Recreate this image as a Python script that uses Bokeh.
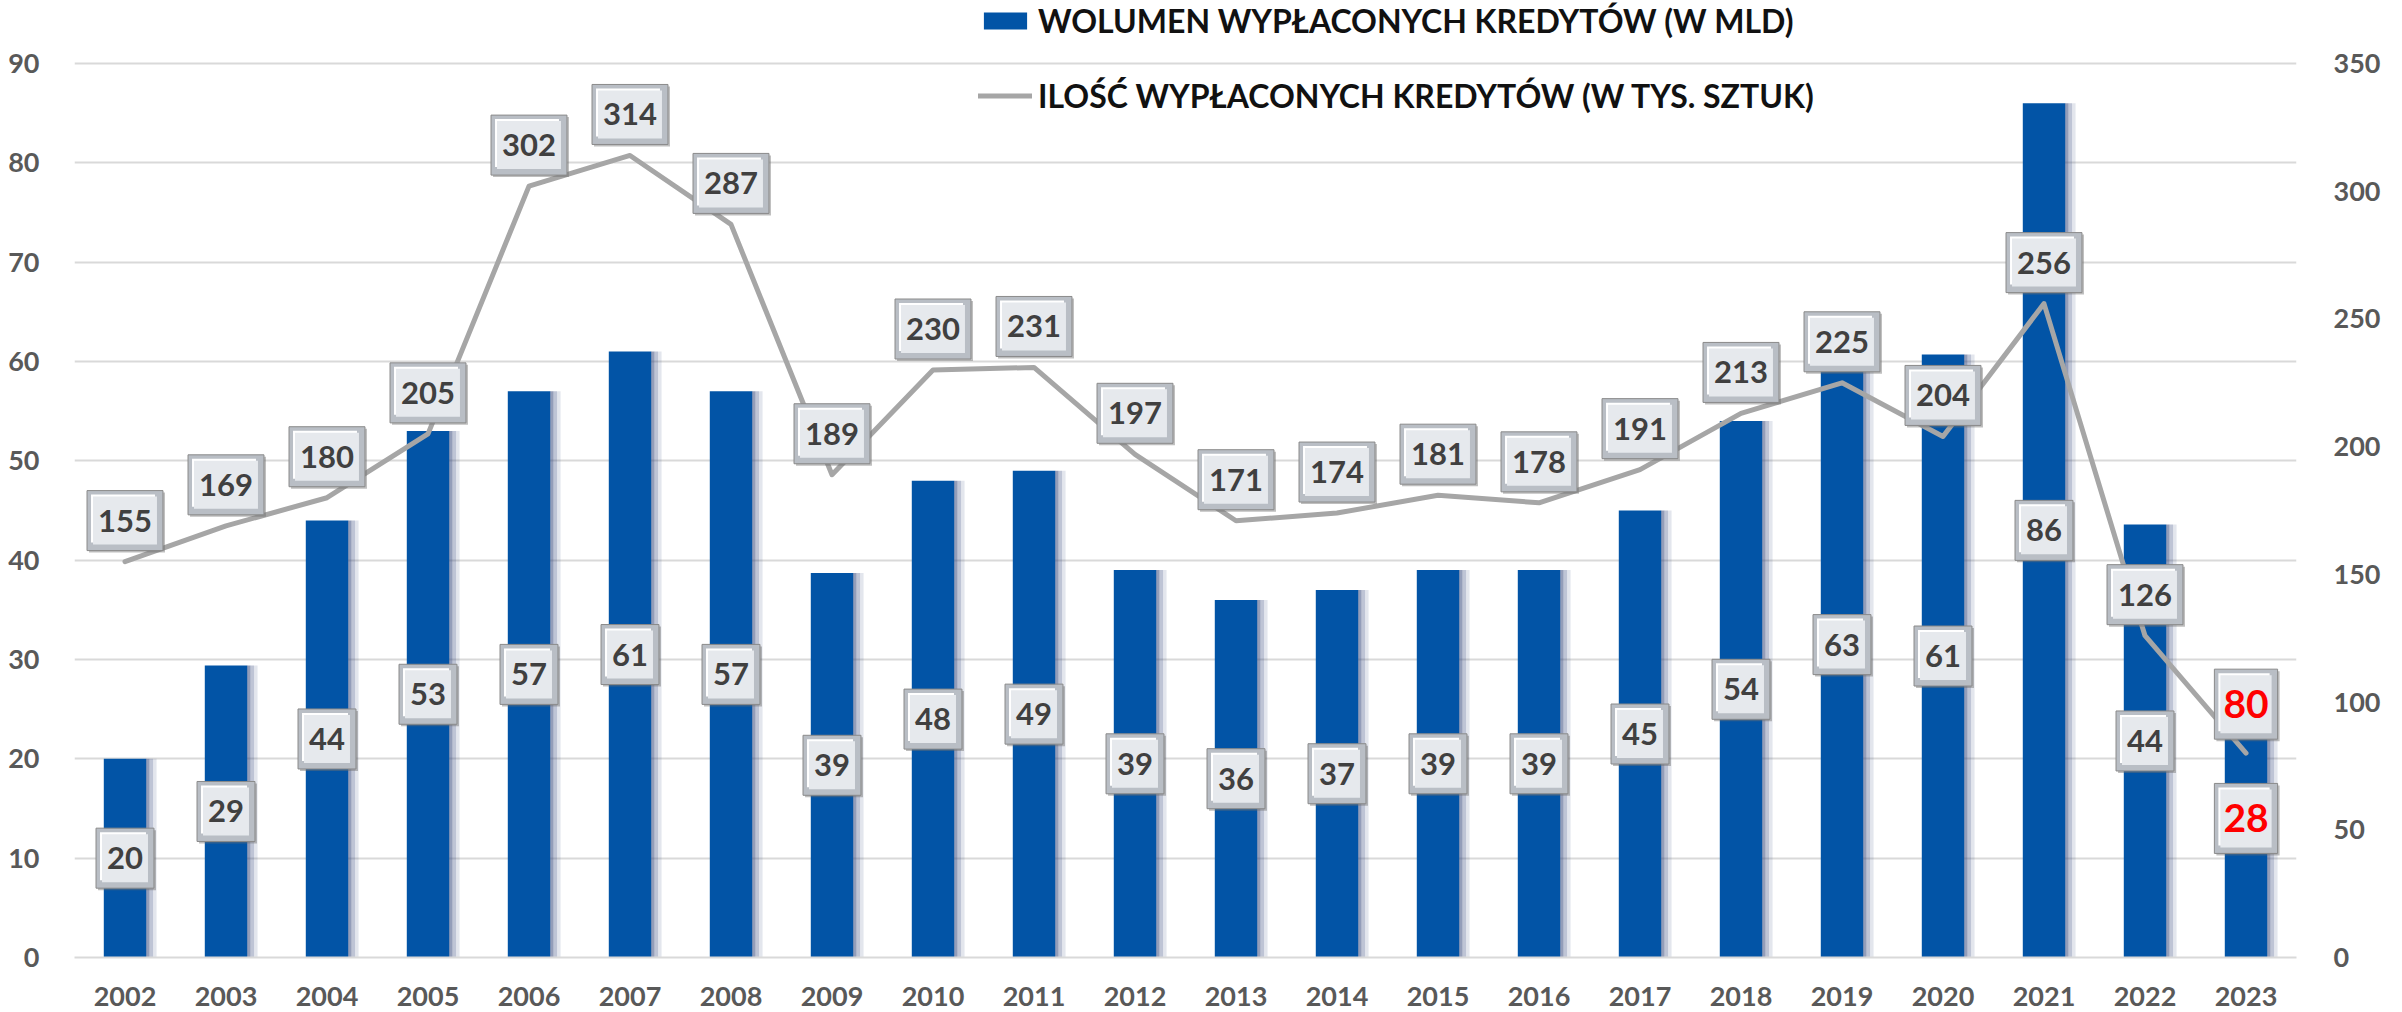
from bokeh.plotting import figure
from bokeh.models import (Range1d, LinearAxis, FactorRange, FixedTicker,
                          ColumnDataSource, Legend, LegendItem)
from bokeh.transform import dodge
from bokeh.core.properties import value
from bokeh.embed import file_html
from bokeh.resources import INLINE

# ---------------- data ----------------
years = ["2002", "2003", "2004", "2005", "2006", "2007", "2008", "2009", "2010",
         "2011", "2012", "2013", "2014", "2015", "2016", "2017", "2018", "2019",
         "2020", "2021", "2022", "2023"]
volume_bn = [20, 29.4, 44, 53, 57, 61, 57, 38.7, 48, 49, 39, 36, 37, 39, 39,
             45, 54, 63, 60.7, 86, 43.6, 28]
count_thousand = [155, 169, 180, 205, 302, 314, 287, 189, 230, 231, 197, 171,
                  174, 181, 178, 191, 213, 225, 204, 256, 126, 80]
left_ticks = [0, 10, 20, 30, 40, 50, 60, 70, 80, 90]
right_ticks = [0, 50, 100, 150, 200, 250, 300, 350]
series_names = ["WOLUMEN WYPŁACONYCH KREDYTÓW (W MLD)",
                "ILOŚĆ WYPŁACONYCH KREDYTÓW (W TYS. SZTUK)"]

# ---------------- sources ----------------
def make_src(idx):
    return ColumnDataSource(dict(
        year=[years[i] for i in idx],
        vol=[volume_bn[i] for i in idx],
        half=[volume_bn[i] / 2 for i in idx],
        vlab=[str(round(volume_bn[i])) for i in idx],
        cnt=[count_thousand[i] for i in idx],
        clab=[str(count_thousand[i]) for i in idx],
    ))

all_idx = list(range(len(years)))
src = make_src(all_idx)
src_main = make_src(all_idx[:-1])
src_last = make_src(all_idx[-1:])

BLUE = "#0254A6"
GRID = "#D9D9D9"
TICK = "#595959"

W, H = 2402, 1012
FRAME_H = 957          # frame spans from the canvas top to the zero line
TOP_GAP = 63           # empty band above the top gridline (legend lives here)
scale = FRAME_H / (FRAME_H - TOP_GAP)

p = figure(x_range=FactorRange(*years, range_padding=0),
           y_range=Range1d(left_ticks[0], left_ticks[-1] * scale),
           width=W, height=H, output_backend="svg", toolbar_location=None,
           title=None,
           min_border_left=74, min_border_right=106, min_border_top=0,
           min_border_bottom=H - FRAME_H)
p.extra_y_ranges = {"right": Range1d(right_ticks[0], right_ticks[-1] * scale)}
p.outline_line_color = None
p.background_fill_color = "white"
p.border_fill_color = "white"

# axes
p.yaxis.ticker = FixedTicker(ticks=left_ticks)
p.yaxis.major_label_standoff = 29
p.xaxis.major_label_standoff = 23
for ax in p.xaxis + p.yaxis:
    ax.major_tick_line_color = None
    ax.minor_tick_line_color = None
    ax.major_label_text_font = "Lato"
    ax.major_label_text_font_style = "bold"
    ax.major_label_text_font_size = "27px"
    ax.major_label_text_color = TICK
p.yaxis.axis_line_color = None
p.xaxis.axis_line_color = GRID
p.xaxis.axis_line_width = 2

raxis = LinearAxis(y_range_name="right", ticker=FixedTicker(ticks=right_ticks),
                   axis_line_color=None, major_tick_line_color=None,
                   minor_tick_line_color=None, major_label_standoff=31,
                   major_label_text_font="Lato", major_label_text_font_style="bold",
                   major_label_text_font_size="27px", major_label_text_color=TICK)
p.add_layout(raxis, "right")

p.xgrid.grid_line_color = None
p.ygrid.ticker = FixedTicker(ticks=left_ticks)
p.ygrid.grid_line_color = GRID
p.ygrid.grid_line_width = 2

# bar soft shadows
for off, a in [(0.225, 0.55), (0.26, 0.33), (0.295, 0.14)]:
    p.vbar(x=dodge("year", off, range=p.x_range), top="vol", width=0.035,
           source=src, fill_color="#3A4C80", fill_alpha=a, line_color=None)

bars = p.vbar(x="year", top="vol", width=0.42, source=src,
              fill_color=BLUE, line_color=None)

line = p.line(x="year", y="cnt", source=src, y_range_name="right",
              line_color="#A6A6A6", line_width=5, line_join="round", line_cap="round")


def pad(px, py):
    return dict(left=px, right=px, top=py, bottom=py)


def boxed(source, ycol, tcol, yname, fs, color, yoff, px, py):
    base = dict(x="year", y=ycol, text=tcol, source=source,
                text_font=value("Lato"), text_font_style="bold",
                text_font_size=fs, text_align="center", text_baseline="middle")
    if yname:
        base["y_range_name"] = yname
    # drop shadow
    p.text(**base, x_offset=2, y_offset=yoff + 2, text_alpha=0, padding=pad(px, py),
           background_fill_color="#6E6E6E", background_fill_alpha=0.45)
    # bevel frame
    p.text(**base, y_offset=yoff, text_alpha=0, padding=pad(px, py),
           background_fill_color="#B9BEC5", border_line_color="#8A8A8A",
           border_line_width=1)
    # highlight
    p.text(**base, x_offset=-2, y_offset=yoff - 2, text_alpha=0,
           padding=pad(px - 6, py - 6), background_fill_color="#FFFFFF")
    # face
    p.text(**base, y_offset=yoff, text_alpha=0, padding=pad(px - 6, py - 6),
           background_fill_color="#E6E9ED")
    # text
    p.text(**base, y_offset=yoff, text_color=color)


boxed(src_main, "half", "vlab", None, "31px", "#404040", 0, 11, 19)
boxed(src_last, "half", "vlab", None, "39px", "#FF0000", 0, 9, 21)
boxed(src_main, "cnt", "clab", "right", "31px", "#404040", -41, 11, 19)
boxed(src_last, "cnt", "clab", "right", "39px", "#FF0000", -49, 9, 21)

legend = Legend(items=[LegendItem(label=series_names[0], renderers=[bars]),
                       LegendItem(label=series_names[1], renderers=[line])],
                location=(904, 842), orientation="vertical",
                glyph_width=54, glyph_height=21, label_standoff=6, spacing=36,
                padding=0, margin=0, border_line_color=None,
                background_fill_alpha=0,
                label_text_font="Lato", label_text_font_style="bold",
                label_text_font_size="32px", label_text_color="#111111")
p.add_layout(legend)

open("out.html", "w").write(file_html(p, INLINE))
